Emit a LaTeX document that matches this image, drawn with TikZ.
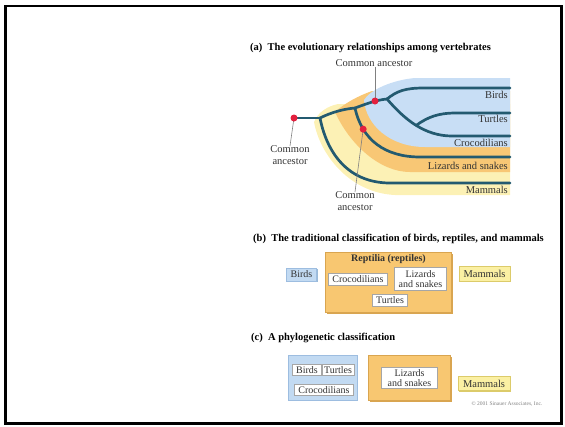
\documentclass[tikz,border=0pt]{standalone}
\usepackage{fontspec}
\setmainfont{Liberation Serif}
\usetikzlibrary{shadows}
\definecolor{bluR}{HTML}{C8DEF5}
\definecolor{bluB}{HTML}{C2DAF2}
\definecolor{bluD}{HTML}{9DBDE0}
\definecolor{bluS}{HTML}{9ABAD8}
\definecolor{oraR}{HTML}{F8C775}
\definecolor{oraB}{HTML}{F8C771}
\definecolor{oraS}{HTML}{D9A550}
\definecolor{yelR}{HTML}{FCF1B5}
\definecolor{yelB}{HTML}{FBF0A3}
\definecolor{yelS}{HTML}{DCCB6A}
\definecolor{treec}{HTML}{235A70}
\definecolor{redc}{HTML}{E3203E}
\definecolor{leadc}{HTML}{808080}
\definecolor{textc}{HTML}{333333}
\begin{document}
\begin{tikzpicture}[x=1pt,y=-1pt,
  tree/.style={draw=treec, line width=2.7pt, line cap=round, line join=round},
  reddot/.style={circle, fill=redc, inner sep=0pt, minimum size=7pt},
  leader/.style={draw=leadc, line width=0.6pt},
  lbl/.style={font=\fontsize{10.5}{12.5}\selectfont, text=textc, inner sep=0pt},
  ttl/.style={font=\fontsize{10.5}{12}\selectfont\bfseries, anchor=west, inner sep=0pt},
  wbox/.style={draw=gray!70, fill=white, line width=0.4pt, inner sep=0pt, text=textc,
    font=\fontsize{10}{10}\selectfont, align=center},
  bluebox/.style={fill=bluB, draw=bluD, line width=0.3pt, inner sep=0pt, text=textc,
    font=\fontsize{10}{10}\selectfont,
    drop shadow={shadow xshift=1.3pt, shadow yshift=-1.3pt, fill=bluS, opacity=1}},
  orabox/.style={fill=oraB, draw=oraS, line width=0.3pt, inner sep=0pt,
    drop shadow={shadow xshift=1.5pt, shadow yshift=-1.5pt, fill=oraS, opacity=1}},
  yelbox/.style={fill=yelB, draw=yelS, line width=0.3pt, inner sep=0pt, text=textc,
    font=\fontsize{10.5}{10.5}\selectfont,
    drop shadow={shadow xshift=1.3pt, shadow yshift=-1.3pt, fill=yelS, opacity=1}}
]
\useasboundingbox (0,0) rectangle (565,426);
\draw[line width=2.5pt] (5.5,6) rectangle (561.5,423.5);

% ---------- (a) ----------
\node[ttl] (ta) at (250,48) {(a)\enspace The evolutionary relationships among vertebrates};

\fill[yelR] (510,195) -- (395,195) .. controls (350,193) and (320,155) .. (314,122)
  .. controls (318,112) and (328,106) .. (338,104) -- (510,104) -- cycle;
\fill[oraR] (510,172) -- (410,172) .. controls (380,172) and (350,145) .. (335,112)
  .. controls (345,103) and (358,96) .. (372,91) -- (510,91) -- cycle;
\fill[bluR] (510,78) -- (415,78) .. controls (392,80) and (370,90) .. (364,100)
  .. controls (366,125) and (390,147) .. (425,147) -- (510,147) -- cycle;

\coordinate (r0) at (294,118);
\coordinate (n1) at (320,118);
\coordinate (n2) at (355,108);
\coordinate (n3) at (387,99);
\coordinate (eB) at (510,88);
\coordinate (eT) at (510,113);
\coordinate (eC) at (510,136);
\coordinate (eL) at (510,157);
\coordinate (eM) at (510,183);

\draw[tree] (r0) -- (n1);
\draw[tree] (n1) .. controls (328,158) and (352,183) .. (390,183) -- (eM);
\draw[tree] (n1) .. controls (332,112) and (344,109) .. (n2)
  .. controls (366,104) and (376,100) .. (n3);
\draw[tree] (n2) .. controls (362,140) and (385,157) .. (420,157) coordinate[pos=0.25] (m) -- (eL);
\draw[tree] (n3) .. controls (405,120) and (425,136) .. (452,136) coordinate[pos=0.5] (tf) -- (eC);
\draw[tree] (tf) .. controls (428,117) and (438,113) .. (456,113) -- (eT);
\draw[tree] (n3) .. controls (397,91) and (405,88) .. (424,88) -- (eB);

\node[lbl, anchor=east] (lB) at (508,94.5) {Birds};
\node[lbl, anchor=east] (lT) at (508,119) {Turtles};
\node[lbl, anchor=east] (lC) at (508,143) {Crocodilians};
\node[lbl, anchor=east] (lL) at (508,166) {Lizards and snakes};
\node[lbl, anchor=east] (lM) at (508,190) {Mammals};

\node[lbl] (caTop) at (374,63) {Common ancestor};
\node[lbl, align=center] (caLeft) at (290,155) {Common\\ancestor};
\node[lbl, align=center] (caBot) at (355,201) {Common\\ancestor};

\coordinate (dTopC) at (375,101);
\draw[leader] (caTop.south -| dTopC) -- (dTopC);
\draw[leader] (r0) -- ([yshift=-1pt]caLeft.north);
\draw[leader] (m) -- ([yshift=-1pt]caBot.north);

\node[reddot] (dRoot) at (r0) {};
\node[reddot] (dTop) at (dTopC) {};
\node[reddot] (dMid) at (m) {};

% ---------- (b) ----------
\node[ttl] (tb) at (253,239) {(b)\enspace The traditional classification of birds, reptiles, and mammals};

\node[bluebox, minimum width=30pt, minimum height=13pt] (bBirds) at (301.5,274.5) {Birds};
\node[orabox, minimum width=126pt, minimum height=60pt] (bRept) at (388,282) {};
\node[font=\fontsize{10}{10}\selectfont\bfseries, text=textc, inner sep=0pt] (bReptT) at (388.5,259) {Reptilia (reptiles)};
\node[wbox, minimum width=59pt, minimum height=12pt] (bCroc) at (358,279.5) {Crocodilians};
\node[wbox, minimum width=52pt, minimum height=23pt] (bLiz) at (420.5,279) {Lizards\\and snakes};
\node[wbox, minimum width=35pt, minimum height=12pt] (bTurt) at (390,300) {Turtles};
\node[yelbox, minimum width=51pt, minimum height=15pt] (bMamm) at (484.5,273.5) {Mammals};

% ---------- (c) ----------
\node[ttl] (tc) at (251,338) {(c)\enspace A phylogenetic classification};

\node[bluebox, minimum width=69pt, minimum height=45pt] (cBlue) at (322.5,377.5) {};
\node[wbox, minimum width=29pt, minimum height=11pt] (cBirds) at (307,370) {Birds};
\node[wbox, minimum width=32pt, minimum height=11pt] (cTurt) at (338,370) {Turtles};
\node[wbox, minimum width=59pt, minimum height=11pt] (cCroc) at (324,390) {Crocodilians};
\node[orabox, minimum width=82pt, minimum height=45pt] (cOra) at (409,377.5) {};
\node[wbox, minimum width=56pt, minimum height=21pt] (cLiz) at (409.5,378) {Lizards\\and snakes};
\node[yelbox, minimum width=52pt, minimum height=14pt] (cMamm) at (484,383.5) {Mammals};

\node[font=\fontsize{5.5}{6}\selectfont, text=gray, inner sep=0pt] (copy) at (507,404) {© 2001 Sinauer Associates, Inc.};
\end{tikzpicture}
\end{document}
